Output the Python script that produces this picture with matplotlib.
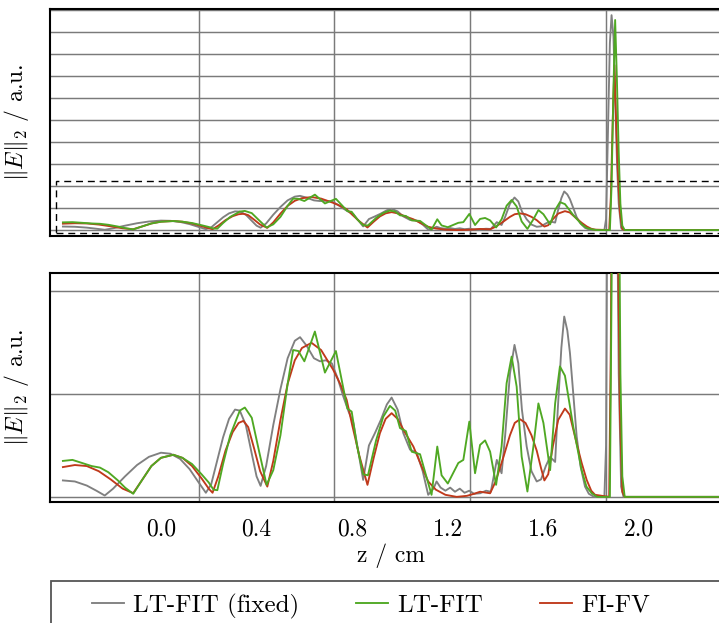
import numpy as np
import matplotlib
matplotlib.use("Agg")
import matplotlib.pyplot as plt
from matplotlib.patches import Rectangle

plt.rcParams["font.family"] = ["cmr10", "DejaVu Serif"]
plt.rcParams["mathtext.fontset"] = "cm"
plt.rcParams["axes.unicode_minus"] = False

# ----- data (z in cm, |E| in a.u.) -----
z_fixed = [-0.41, -0.36, -0.31, -0.27, -0.235, -0.2, -0.15, -0.1, -0.05, 0.0,
           0.04, 0.08, 0.12, 0.155, 0.188, 0.21, 0.235, 0.26, 0.285, 0.31,
           0.33, 0.355, 0.38, 0.4, 0.417, 0.44, 0.47, 0.5, 0.53, 0.56,
           0.582, 0.61, 0.64, 0.665, 0.69, 0.715, 0.74, 0.763, 0.785, 0.805,
           0.825, 0.846, 0.87, 0.895, 0.92, 0.945, 0.965, 0.99, 1.014, 1.042,
           1.07, 1.095, 1.118, 1.14, 1.153, 1.17, 1.19, 1.21, 1.23, 1.25,
           1.27, 1.29, 1.31, 1.335, 1.36, 1.38, 1.405, 1.425, 1.44, 1.46,
           1.479, 1.495, 1.51, 1.53, 1.55, 1.572, 1.59, 1.61, 1.628, 1.649,
           1.66, 1.675, 1.687, 1.7, 1.711, 1.725, 1.739, 1.755, 1.774, 1.79,
           1.81, 1.855, 1.862, 1.87, 1.878, 1.885, 1.893, 1.9, 1.908, 1.915,
           1.925, 1.935, 2.45]
e_fixed = [0.16, 0.15, 0.11, 0.06, 0.013, 0.08, 0.2, 0.31, 0.39, 0.43,
           0.42, 0.37, 0.27, 0.15, 0.04, 0.12, 0.35, 0.58, 0.76, 0.85,
           0.84, 0.7, 0.42, 0.2, 0.107, 0.3, 0.7, 1.05, 1.35, 1.52,
           1.555, 1.47, 1.35, 1.32, 1.33, 1.3, 1.15, 0.977, 0.83, 0.72,
           0.45, 0.165, 0.5, 0.62, 0.75, 0.9, 0.967, 0.85, 0.62, 0.46,
           0.43, 0.25, 0.02, 0.08, 0.15, 0.09, 0.06, 0.09, 0.05, 0.08,
           0.04, 0.06, 0.03, 0.035, 0.06, 0.05, 0.36, 0.23, 0.6, 1.2,
           1.48, 1.3, 0.85, 0.49, 0.25, 0.15, 0.17, 0.3, 0.39, 0.34,
           0.85, 1.45, 1.756, 1.62, 1.4, 1.0, 0.59, 0.3, 0.1, 0.03,
           0.003, 0.0, 0.5, 4.5, 8.5, 9.77, 8.8, 6.0, 3.0, 1.2,
           0.1, 0.0, 0.0]

z_lt = [-0.41, -0.37, -0.33, -0.29, -0.255, -0.22, -0.18, -0.15, -0.116, -0.08,
        -0.04, 0.0, 0.052, 0.09, 0.13, 0.17, 0.2, 0.22, 0.236, 0.26,
        0.29, 0.33, 0.351, 0.38, 0.41, 0.442, 0.47, 0.5, 0.53, 0.553,
        0.575, 0.6, 0.644, 0.686, 0.732, 0.78, 0.798, 0.82, 0.846, 0.866,
        0.9, 0.93, 0.958, 0.98, 1.0, 1.025, 1.049, 1.084, 1.11, 1.132,
        1.156, 1.174, 1.2, 1.244, 1.265, 1.29, 1.314, 1.335, 1.356, 1.377,
        1.402, 1.425, 1.446, 1.467, 1.488, 1.509, 1.533, 1.558, 1.579, 1.6,
        1.628, 1.649, 1.669, 1.69, 1.725, 1.76, 1.78, 1.802, 1.825, 1.878,
        1.885, 1.892, 1.9, 1.907, 1.915, 1.922, 1.93, 1.94, 2.45]
e_lt = [0.35, 0.36, 0.33, 0.3, 0.285, 0.24, 0.16, 0.09, 0.03, 0.16,
        0.3, 0.38, 0.41, 0.38, 0.32, 0.22, 0.14, 0.07, 0.065, 0.32,
        0.6, 0.84, 0.87, 0.77, 0.45, 0.117, 0.26, 0.6, 1.1, 1.43,
        1.42, 1.32, 1.61, 1.21, 1.42, 0.86, 0.83, 0.5, 0.22, 0.21,
        0.55, 0.78, 0.886, 0.84, 0.67, 0.64, 0.44, 0.415, 0.2, 0.02,
        0.49, 0.21, 0.13, 0.33, 0.36, 0.733, 0.23, 0.506, 0.55, 0.44,
        0.117, 0.49, 1.107, 1.366, 1.074, 0.392, 0.052, 0.49, 0.91, 0.72,
        0.26, 0.91, 1.27, 1.18, 0.68, 0.26, 0.1, 0.035, 0.0, 0.0,
        2.0, 6.0, 9.55, 7.0, 3.5, 1.2, 0.2, 0.0, 0.0]

z_fv = [-0.41, -0.36, -0.31, -0.26, -0.21, -0.16, -0.116, -0.08, -0.04, 0.0,
        0.052, 0.09, 0.13, 0.17, 0.2, 0.216, 0.24, 0.27, 0.3, 0.325,
        0.345, 0.365, 0.39, 0.415, 0.445, 0.47, 0.5, 0.53, 0.56, 0.59,
        0.63, 0.67, 0.72, 0.75, 0.777, 0.8, 0.83, 0.864, 0.89, 0.916,
        0.94, 0.965, 0.99, 1.02, 1.056, 1.09, 1.118, 1.15, 1.19, 1.237,
        1.28, 1.31, 1.335, 1.377, 1.4, 1.433, 1.46, 1.48, 1.502, 1.525,
        1.55, 1.572, 1.59, 1.604, 1.62, 1.64, 1.662, 1.69, 1.71, 1.739,
        1.76, 1.781, 1.8, 1.816, 1.875, 1.882, 1.89, 1.897, 1.904, 1.912,
        1.92, 1.93, 1.94, 2.45]
e_fv = [0.29, 0.31, 0.3, 0.25, 0.17, 0.08, 0.036, 0.16, 0.3, 0.38,
        0.41, 0.38, 0.3, 0.18, 0.08, 0.04, 0.2, 0.45, 0.63, 0.72,
        0.74, 0.68, 0.47, 0.25, 0.1, 0.35, 0.75, 1.1, 1.33, 1.45,
        1.5, 1.43, 1.24, 1.1, 0.945, 0.7, 0.4, 0.117, 0.38, 0.62,
        0.76, 0.815, 0.76, 0.63, 0.49, 0.3, 0.15, 0.07, 0.02, 0.0,
        0.01, 0.03, 0.05, 0.035, 0.15, 0.39, 0.6, 0.72, 0.756, 0.72,
        0.6, 0.45, 0.28, 0.16, 0.22, 0.5, 0.75, 0.86, 0.8, 0.52,
        0.33, 0.165, 0.06, 0.02, 0.0, 1.5, 5.0, 7.5, 5.0, 2.5,
        0.8, 0.05, 0.0, 0.0]

labels = ["LT-FIT (fixed)", "LT-FIT", "FI-FV"]
colors = ["#808080", "#4fa823", "#c0391b"]

xticks = [0.0, 0.4, 0.8, 1.2, 1.6, 2.0]
xgrid = [0.159, 0.724, 1.293, 1.862]
xlim = (-0.464, 2.393)
ylim_full = (-0.27, 10.05)
ylim_zoom = (-0.05, 2.18)
box_x0, box_y = -0.44, (-0.14, 2.23)

# ----- figure -----
W, H = 719, 623
fig = plt.figure(figsize=(W / 100, H / 100), dpi=100)
ax1 = fig.add_axes([50 / W, 1 - 236 / H, 683 / W, 227 / H])
ax2 = fig.add_axes([50 / W, 1 - 502 / H, 683 / W, 229 / H])

series = [(z_fixed, e_fixed, 2), (z_lt, e_lt, 4), (z_fv, e_fv, 3)]

for ax, ylim, yt in [(ax1, ylim_full, range(0, 11)), (ax2, ylim_zoom, [0, 1, 2])]:
    handles = []
    for (z, e, zo), c, lab in zip(series, colors, labels):
        h, = ax.plot(z, e, color=c, lw=1.35, zorder=zo, label=lab)
        handles.append(h)
    ax.set_xlim(*xlim)
    ax.set_ylim(*ylim)
    ax.set_yticks(list(yt))
    ax.set_yticklabels([])
    ax.set_xticks(xticks)
    ax.set_xticks(xgrid, minor=True)
    ax.grid(False)
    ax.grid(True, axis="x", which="minor", color="#7a7a7a", lw=1.05, zorder=1)
    ax.grid(True, axis="y", which="major", color="#7a7a7a", lw=1.05, zorder=1)
    ax.tick_params(which="both", length=0)
    for s in ax.spines.values():
        s.set_linewidth(1.5)
        s.set_color("black")
    ax.set_ylabel(r"$\|E\|_2$ / a.u.", fontsize=17, labelpad=10)

ax1.set_xticklabels([])
ax2.set_xticklabels([f"{t:.1f}" for t in xticks], fontsize=17)
ax2.tick_params(axis="x", pad=12)
ax2.set_xlabel("z / cm", fontsize=17, labelpad=2)

# zoom window marker in the overview panel
ax1.add_patch(Rectangle((box_x0, box_y[0]), 5.0, box_y[1] - box_y[0],
                        fill=False, ls=(0, (5, 3.5)), lw=1.0, color="black",
                        zorder=5))

# legend with a wide frame running off the figure
fig.patches.append(Rectangle((51 / W, -0.1), 0.95, 0.1 + 1 - 581 / H,
                             transform=fig.transFigure, fill=False,
                             ec="#555555", lw=1.3))
fig.legend(handles=handles, labels=labels, loc="center left",
           bbox_to_anchor=(92 / W, 1 - 606 / H), ncol=3, frameon=False,
           fontsize=18, handlelength=1.28, handletextpad=0.36,
           columnspacing=2.28, borderpad=0, borderaxespad=0)

fig.savefig("out.png", dpi=100)
